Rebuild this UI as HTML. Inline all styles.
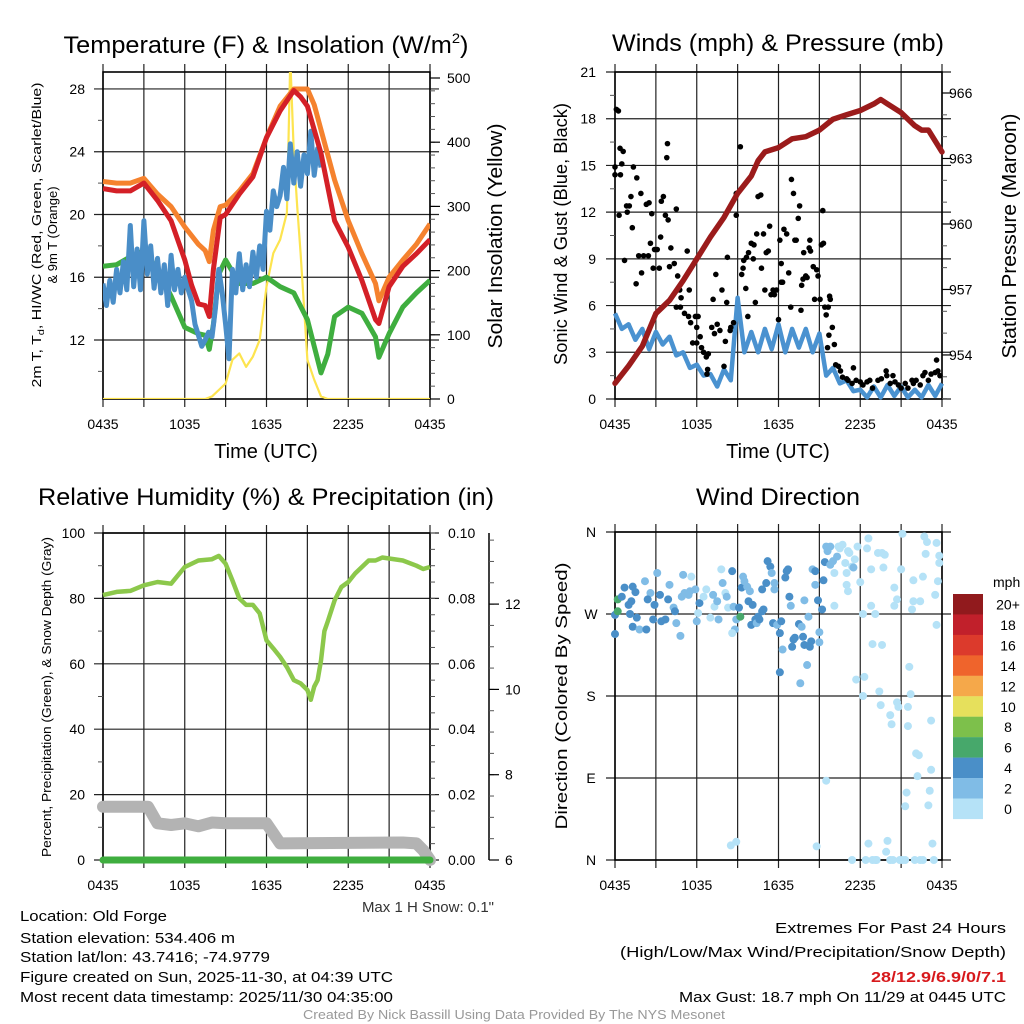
<!DOCTYPE html>
<html><head><meta charset="utf-8"><title>Mesonet Meteogram</title>
<style>
html,body{margin:0;padding:0;background:#fff;}
svg{display:block;font-family:"Liberation Sans",sans-serif;}
</style></head>
<body>
<svg id="chart" xmlns="http://www.w3.org/2000/svg" width="1024" height="1024" viewBox="0 0 1024 1024">
<rect x="0" y="0" width="1024" height="1024" fill="#fff"/>
<!-- titles -->
<text x="266" y="53" font-size="24" text-anchor="middle" textLength="405" lengthAdjust="spacingAndGlyphs">Temperature (F) &amp; Insolation (W/m<tspan font-size="14" dy="-10">2</tspan><tspan dy="10">)</tspan></text>
<text x="778" y="51" font-size="24" text-anchor="middle" textLength="332" lengthAdjust="spacingAndGlyphs">Winds (mph) &amp; Pressure (mb)</text>
<text x="266" y="505" font-size="24" text-anchor="middle" textLength="456" lengthAdjust="spacingAndGlyphs">Relative Humidity (%) &amp; Precipitation (in)</text>
<text x="778" y="505" font-size="24" text-anchor="middle" textLength="164" lengthAdjust="spacingAndGlyphs">Wind Direction</text>
<!-- axis titles -->
<text transform="translate(41,235) rotate(-90)" font-size="13" text-anchor="middle" textLength="305" lengthAdjust="spacingAndGlyphs">2m T, T<tspan font-size="9" dy="3">d</tspan><tspan dy="-3">, HI/WC (Red, Green, Scarlet/Blue)</tspan></text>
<text transform="translate(57,235) rotate(-90)" font-size="13" text-anchor="middle">&amp; 9m T (Orange)</text>
<text transform="translate(502,236) rotate(-90)" font-size="20" text-anchor="middle" textLength="225" lengthAdjust="spacingAndGlyphs">Solar Insolation (Yellow)</text>
<text transform="translate(567,234) rotate(-90)" font-size="18" text-anchor="middle" textLength="262" lengthAdjust="spacingAndGlyphs">Sonic Wind &amp; Gust (Blue, Black)</text>
<text transform="translate(1016,236) rotate(-90)" font-size="20" text-anchor="middle" textLength="245" lengthAdjust="spacingAndGlyphs">Station Pressure (Maroon)</text>
<text transform="translate(51,697) rotate(-90)" font-size="13" text-anchor="middle" textLength="320" lengthAdjust="spacingAndGlyphs">Percent, Precipitation (Green), &amp; Snow Depth (Gray)</text>
<text transform="translate(567,696) rotate(-90)" font-size="17" text-anchor="middle" textLength="267" lengthAdjust="spacingAndGlyphs">Direction (Colored By Speed)</text>
<text x="266" y="458" font-size="20" text-anchor="middle">Time (UTC)</text>
<text x="778" y="458" font-size="20" text-anchor="middle">Time (UTC)</text>
<!-- footer -->
<text x="494" y="912" font-size="15" text-anchor="end" fill="#333">Max 1 H Snow: 0.1"</text>
<g font-size="15">
<text x="20" y="921" textLength="147" lengthAdjust="spacingAndGlyphs">Location: Old Forge</text>
<text x="20" y="943" textLength="215" lengthAdjust="spacingAndGlyphs">Station elevation: 534.406 m</text>
<text x="20" y="962" textLength="250" lengthAdjust="spacingAndGlyphs">Station lat/lon: 43.7416; -74.9779</text>
<text x="20" y="982" textLength="373" lengthAdjust="spacingAndGlyphs">Figure created on Sun, 2025-11-30, at 04:39 UTC</text>
<text x="20" y="1002" textLength="373" lengthAdjust="spacingAndGlyphs">Most recent data timestamp: 2025/11/30 04:35:00</text>
</g>
<g font-size="15" text-anchor="end">
<text x="1006" y="933" textLength="231" lengthAdjust="spacingAndGlyphs">Extremes For Past 24 Hours</text>
<text x="1006" y="957" textLength="386" lengthAdjust="spacingAndGlyphs">(High/Low/Max Wind/Precipitation/Snow Depth)</text>
<text x="1006" y="982" font-weight="bold" fill="#d7191c" textLength="135" lengthAdjust="spacingAndGlyphs">28/12.9/6.9/0/7.1</text>
<text x="1006" y="1002" textLength="327" lengthAdjust="spacingAndGlyphs">Max Gust: 18.7 mph On 11/29 at 0445 UTC</text>
</g>
<text x="514" y="1019" font-size="13" fill="#999" text-anchor="middle" textLength="422" lengthAdjust="spacingAndGlyphs">Created By Nick Bassill Using Data Provided By The NYS Mesonet</text>
</svg>
<script>
// ---------- data ----------
const xTickLabels = ["0435","1035","1635","2235","0435"];
// Temperature panel
const redT = [0,1,2,3,4,5,6,6.5,7,7.5,7.8,8.1,8.6,9,10,11,12,13,14,14.5,15,16,17,18,19,20,20.25,21,22,23,24];
const redV = [21.65,21.5,21.5,22.0,20.9,19.6,17.1,15.5,14.3,14.2,13.5,16.5,19.8,20.0,21.3,22.4,24.9,26.6,27.9,27.5,26.9,23.9,19.6,17.9,15.8,13.3,13.05,15.4,16.7,17.5,18.4];
const orangeT = [0,1,2,3,4,5,6,7,7.5,7.8,8.1,8.6,9,10,11,12,13,14,15,15.5,16,17,18,19,20,20.25,21,22,23,24];
const orangeV = [22.1,22.0,22.0,22.3,21.3,20.5,19.2,18.1,17.7,17.0,19.0,20.5,20.6,21.5,22.6,24.9,26.9,28.0,28.0,27.0,25.4,22.2,19.6,17.5,15.6,14.5,16.0,17.1,18.1,19.4];
const greenT = [0,1,2,3,4,5,6,7,7.5,7.8,8.1,8.5,9,10,11,12,13,14,15,15.5,16,16.5,17,18,19,20,20.25,21,22,23,24];
const greenV = [16.7,16.8,17.3,17.7,16.5,14.8,12.8,12.4,12.3,11.4,13.0,16.2,17.1,15.6,15.6,16.0,15.4,15.0,13.3,11.6,9.9,11.1,13.5,14.1,13.7,12.2,10.9,12.4,14.1,15.0,15.8];
const blueV = [15.6,14.2,15.8,14.4,16.5,15.0,17.0,15.2,19.3,15.4,17.8,15.2,19.6,16.2,18.0,15.3,17.2,15.0,16.8,14.2,17.4,15.2,16.5,15.0,16.0,15.2,14.5,13.0,12.3,11.6,12.0,12.5,12.2,14.0,16.5,15.0,13.0,10.8,16.5,15.0,17.5,15.2,16.8,15.4,17.6,16.0,18.0,16.5,20.2,19.0,21.5,20.5,21.2,23.0,21.0,24.5,22.0,24.0,21.8,23.8,22.6,25.3,22.5,24.2,23.0];
const blueStep = 0.25;
const solarT = [0,7.5,8,8.5,9,9.5,10,10.5,11,11.5,12,12.5,13,13.5,13.75,14,14.25,14.5,15,15.5,16,16.5,24];
const solarV = [0,0,4,14,24,61,71,50,66,92,175,227,248,290,530,383,300,227,61,30,4,0,0];
const tempTicks = [12,16,20,24,28];
const solarTicks = [0,100,200,300,400,500];
// Wind panel
const windV = [5.5,4.5,4.8,3.8,4.5,3.2,4.3,3.5,4.0,2.8,3.0,2.0,2.2,1.5,1.6,0.8,1.9,1.2,6.5,3.0,4.3,3.0,4.5,3.2,4.8,3.0,4.5,3.3,4.5,3.0,4.2,1.5,2.0,1.0,1.2,0.5,0.6,0.1,0.8,0.1,0.9,0.2,0.8,0.1,0.6,0.1,0.9,0.2,1.0];
const windStep = 0.5;
const gustT = [0,0.1,0.25,0,0.37,0.6,0.5,0.4,0.3,0.7,0.85,1.05,0.9,1.17,1.27,1.35,1.6,1.55,1.74,1.9,2.1,1.95,2.3,2.5,2.7,2.45,2.6,2.8,2.9,3.1,3.25,3.4,3.55,3.7,3.9,3.8,3.85,3.35,4.1,4.0,4.35,4.5,4.6,4.75,4.85,4.5,5.3,5.45,4.8,5.1,5.4,5.55,5.9,6.1,6.0,5.7,6.0,6.25,6.35,6.5,6.7,6.8,6.75,6.85,7.2,7.4,7.1,7.3,7.5,7.7,7.85,8.0,8.1,8.2,8.25,8.45,8.7,8.5,8.9,8.9,9.2,9.3,9.4,9.45,9.6,9.65,9.8,10.0,10.15,10.2,10.4,10.5,10.7,9.75,10.3,10.75,10.9,11.0,11.1,11.25,11.35,11.45,11.6,11.7,11.85,12.0,12.1,12.2,12.3,12.2,12.4,12.6,12.75,12.9,12.95,13.1,13.2,13.3,13.45,13.55,13.7,13.8,13.65,13.85,14.0,14.1,14.3,14.25,14.35,14.55,14.65,14.8,14.9,15.05,15.25,15.15,15.3,15.4,15.5,15.65,15.75,15.8,15.95,15.7,16.1,15.6,16.2,16.4,16.55,16.7,17.0,17.1,17.4,17.5,17.7,18.0,18.2,18.5,18.7,18.9,19.3,19.55,19.9,19.95,20.2,20.4,20.55,20.8,21.0,21.3,21.5,21.8,21.9,22.1,22.4,22.6,22.75,23.0,23.2,23.5,23.6,23.7,23.85];
const gustV = [14.4,18.6,18.5,14.9,16.1,15.9,15.1,14.4,11.8,8.9,12.4,12.4,12.0,13.0,11.0,14.9,14.2,7.4,9.2,13.2,9.2,8.1,12.5,12.6,11.9,9.2,10.0,8.4,9.6,9.6,8.4,12.7,13.0,11.8,11.5,15.5,16.4,10.4,9.7,8.5,8.7,12.2,7.9,7.0,6.5,5.9,9.5,7.0,5.9,5.5,5.3,4.9,5.3,5.3,4.6,3.6,3.6,4.0,3.3,3.0,2.7,1.9,1.6,2.9,6.4,8.0,4.6,4.2,4.8,4.4,7.0,2.1,3.7,6.2,9.1,4.4,4.9,4.6,13.2,11.8,16.2,8.0,8.4,8.9,7.1,9.1,9.4,10.0,9.0,9.9,10.6,13.0,13.1,5.3,6.2,8.4,10.6,7.0,9.4,9.5,11.1,6.7,7.0,6.7,7.0,5.1,10.2,7.5,7.5,8.7,10.9,10.6,8.1,5.9,14.1,13.2,10.2,10.2,11.6,12.4,7.3,7.7,5.7,9.4,7.9,7.8,10.2,9.7,9.5,8.5,6.4,8.3,7.9,6.4,12.1,9.9,10.0,5.9,5.4,5.9,6.6,6.4,4.6,4.1,3.5,3.3,2.2,2.1,1.8,1.4,1.3,1.2,1.0,2.0,1.2,1.1,0.9,1.1,1.2,0.7,1.2,1.3,1.8,1.5,1.0,1.5,1.1,0.9,0.7,1.0,0.7,1.2,1.0,1.2,0.9,1.5,1.7,1.2,1.6,1.7,2.5,1.8,1.5];
const presT = [0,1,2,3,4,5,6,7,8,9,10,10.5,11,12,13,14,15,16,17,18,19,19.5,20,21,22,22.5,23,24];
const presV = [952.7,953.5,954.4,955.9,956.5,957.4,958.4,959.4,960.3,961.4,962.2,962.9,963.3,963.5,963.9,964.0,964.3,964.8,965.0,965.2,965.5,965.7,965.5,965.1,964.5,964.3,964.3,963.3];
const windTicks = [0,3,6,9,12,15,18,21];
const presTicks = [954,957,960,963,966];
// Humidity panel
const rhT = [0,1,2,3,4,5,6,7,8,8.5,9,9.5,10,10.5,11,11.5,12,12.5,13,13.5,14,14.5,15,15.25,15.5,15.75,16,16.25,16.5,17,17.5,18,18.5,19,19.5,20,20.5,21,22,23,23.5,24];
const rhV = [81,82,82.3,84,85,84.5,89.6,91.6,92,93,90.6,85.5,80,78,78,75.4,67.2,64.7,62.1,59,55,54,52,49,53,55,61,70,73,79.4,83.5,85,87.6,89.6,91.6,91.6,92.5,92.2,91.6,90,89,89.6];
const snowT = [0,3.3,4,5,6,7,8,9,12,13,22,23,23.5,24];
const snowV = [7.25,7.25,6.86,6.82,6.86,6.79,6.88,6.86,6.86,6.39,6.41,6.39,6.23,6.0];
const precipT = [0,24];
const precipV = [0,0];
const rhTicks = [0,20,40,60,80,100];
const precipTicks = ["0.00","0.02","0.04","0.06","0.08","0.10"];
const snowTicks = [6,8,10,12];
// Direction panel
const dirT = [0,0,0.2,0.2,0.7,0.5,1.0,1.3,1.5,1.2,1.1,1.3,1.6,1.8,2.3,2.2,2.6,2.4,2.8,3.1,2.9,3.3,3.4,3.7,3.9,4.0,4.3,4.4,4.5,4.8,4.9,5.0,5.1,5.4,5.5,5.6,5.9,6.0,6.1,6.2,6.5,6.7,7.0,7.2,7.3,7.5,7.6,7.8,7.9,8.1,8.2,8.3,8.6,8.7,8.8,8.6,8.9,9.1,9.2,9.3,9.4,9.5,9.7,9.8,9.9,10.0,10.1,10.3,10.4,10.5,10.6,10.8,10.8,10.9,11.1,11.2,11.4,11.5,11.6,11.7,11.7,11.9,12.1,12.1,12.2,12.3,12.5,12.6,12.7,12.8,12.9,13.0,13.1,13.2,13.5,13.7,13.8,13.6,13.9,13.9,14.1,14.2,14.3,14.4,14.5,14.7,14.7,14.9,15.0,15.0,15.2,15.3,15.4,15.5,15.6,15.8,15.8,16.0,16.1,16.3,16.4,16.5,16.7,16.9,17.0,17.1,17.2,17.4,17.5,17.6,17.0,17.1,16.1,18.0,17.8,18.5,18.6,18.8,18.8,19.1,19.3,19.6,19.7,19.8,20.5,20.7,20.5,21.0,21.1,21.9,21.9,21.8,22.4,22.6,22.7,22.9,22.8,23.6,23.8,23.8,23.7,23.5,23.6,18.9,19.6,18.2,17.7,18.3,18.2,19.4,19.5,20.2,20.3,20.7,20.8,21.5,21.5,21.7,21.6,23.2,22.1,22.3,22.2,23.2,21.4,21.3,23.1,23.0,15.5,8.5,8.9,14.8,18.6,20.0,19.9,23.3,17.4,18.4,18.9,19.1,19.2,20.2,20.4,20.9,21.1,21.3,22.0,22.4,22.6,23.4];
const dirV = [269,248,286,273,299,289,280,300,294,284,270,256,266,253,253,306,293,286,264,315,280,291,262,264,286,302,277,273,260,246,289,313,293,291,295,311,297,262,271,282,289,297,266,291,278,284,264,319,304,293,289,277,317,278,253,249,264,277,267,299,311,306,300,284,295,258,280,264,260,267,264,297,273,275,304,328,322,315,260,297,304,258,249,206,262,231,310,317,319,289,279,234,242,244,259,256,245,194,285,236,214,267,234,240,319,317,302,285,250,239,275,307,327,344,339,344,324,328,315,333,344,342,346,326,315,339,337,322,321,330,302,295,279,305,344,342,353,319,279,270,337,337,321,335,299,286,279,319,358,307,284,275,284,311,355,349,336,348,334,326,306,291,258,237,236,270,198,201,180,185,170,159,149,173,168,168,147,182,212,153,117,115,92,99,74,59,76,60,87,16,20,15,18,21,9,18,0,0,0,0,0,0,0,0,0,0,0,0,0,0];
const dirSpd = [5,5,7,7,5,5,5,5,5,5,5,5,5,3,5,3,3,5,5,3,5,5,5,5,5,3,3,5,3,3,3,3,3,3,3,1,3,3,1,5,1,1,1,3,1,3,3,1,3,1,3,1,5,3,3,1,3,5,7,5,3,3,3,5,3,5,5,5,3,5,5,5,5,5,5,5,5,3,5,3,3,3,5,5,5,3,5,5,5,5,3,5,5,5,5,3,5,3,3,5,3,3,5,5,3,5,3,5,3,3,5,5,5,3,3,3,3,3,1,3,1,1,1,1,1,1,1,1,3,1,1,1,1,1,1,1,1,1,1,1,1,1,1,1,1,1,1,1,1,1,1,1,1,1,1,1,1,1,1,1,1,1,1,1,1,1,1,1,1,1,1,1,1,1,1,1,1,1,1,1,1,1,1,1,1,1,1,1,1,1,1,1,1,1,1,1,1,1,1,1,1,1,1,1,1,1,1,1,1,1,1,1,1,1,1];
const dirTickLabels = ["N","E","S","W","N"];
const legendLabels = ["20+","18","16","14","12","10","8","6","4","2","0"];
const legendColors = ["#911a1d","#c1202b","#dc3a2c","#ef642c","#f5a84a","#e6e05c","#7dc04b","#47a86b","#4a8fc8","#80bce6","#b5e2f7"];

// ---------- helpers ----------
const NS = "http://www.w3.org/2000/svg";
const svg = document.getElementById("chart");
function el(tag, attrs, parent){
  const e = document.createElementNS(NS, tag);
  for (const k in attrs) e.setAttribute(k, attrs[k]);
  (parent || svg).appendChild(e);
  return e;
}
function group(name){
  const g = el("g", {});
  
  
  return g;
}
function linePath(ts, vs, sx, sy){
  let d = "";
  for (let i = 0; i < ts.length; i++) d += (i ? "L" : "M") + sx(ts[i]).toFixed(1) + "," + sy(vs[i]).toFixed(1);
  return d;
}
function stepPath(vs, step, sx, sy){
  let d = "";
  for (let i = 0; i < vs.length; i++) d += (i ? "L" : "M") + sx(i*step).toFixed(1) + "," + sy(vs[i]).toFixed(1);
  return d;
}
function frameGrid(x0, y0, x1, y1, name, hGrid, minorEvery){
  const g = group(name + "-grid");
  for (let i = 0; i <= 8; i++) {
    const x = x0 + i*(x1-x0)/8;
    const l = el("line", {x1:x, x2:x, y1:y0-8, y2:y1+8, stroke:"#222", "stroke-width":1.2}, g);
    
    
  }
  hGrid.forEach(y => {
    const l = el("line", {x1:x0-9, x2:x1+9, y1:y, y2:y, stroke:"#222", "stroke-width":1.2}, g);
    
    
  });
  const r = el("rect", {x:x0, y:y0, width:x1-x0, height:y1-y0, fill:"none", stroke:"#000", "stroke-width":1.6}, g);
  
  
  xTickLabels.forEach((t, i) => {
    const tx = el("text", {x:x0 + i*(x1-x0)/4, y:y1+30, "font-size":14, "text-anchor":"middle"}, g);
    tx.textContent = t;
    
    
  });
  return g;
}
function minorTicks(g, x, ys, len){
  ys.forEach(y => {
    const l = el("line", {x1:x, x2:x+len, y1:y, y2:y, stroke:"#555", "stroke-width":1}, g);
    
    
  });
}
function label(g, x, y, txt, anchor, size, name){
  const t = el("text", {x:x, y:y, "font-size":size||14, "text-anchor":anchor}, g);
  t.textContent = txt;
  
  
  return t;
}
function range(a, b, s){ const r=[]; for (let v=a; v<=b+1e-9; v+=s) r.push(v); return r; }

// ---------- Panel 1: temperature ----------
const P1 = {x0:103, x1:430, y0:72, y1:399};
const x1s = h => P1.x0 + h*(P1.x1-P1.x0)/24;
const tY = v => 340 - (v-12)*15.69;
const sY = v => 399 - v*0.642;
{
  const g = frameGrid(P1.x0, P1.y0, P1.x1, P1.y1, "temperature-panel", tempTicks.map(tY));
  minorTicks(g, P1.x0-5, [10,14,18,22,26].map(tY), 5);
  minorTicks(g, P1.x1, range(0,500,20).map(sY), 5);
  solarTicks.forEach(v => {
    const l = el("line", {x1:P1.x1, x2:P1.x1+10, y1:sY(v), y2:sY(v), stroke:"#000", "stroke-width":1.2}, g);
    
    
    label(g, P1.x1+17, sY(v)+5, String(v), "start", 14, "solar-tick-label");
  });
  tempTicks.forEach(v => label(g, 85, tY(v)+5, String(v), "end", 14, "temperature-tick-label"));
  const cp = el("clipPath", {id:"clip1"}, svg);
  el("rect", {x:P1.x0, y:P1.y0, width:P1.x1-P1.x0, height:P1.y1-P1.y0}, cp);
  const s = group("temperature-series");
  s.setAttribute("clip-path", "url(#clip1)");
  const sol = el("path", {d:linePath(solarT, solarV, x1s, sY), fill:"none", stroke:"#fde44f", "stroke-width":2.2, "stroke-linejoin":"round"}, s);
  
  
  const gr = el("path", {d:linePath(greenT, greenV, x1s, tY), fill:"none", stroke:"#3fae3f", "stroke-width":5, "stroke-linejoin":"round"}, s);
  
  
  const bl = el("path", {d:stepPath(blueV, blueStep, x1s, tY), fill:"none", stroke:"#4a8ec8", "stroke-width":5, "stroke-linejoin":"round"}, s);
  
  
  const or = el("path", {d:linePath(orangeT, orangeV, x1s, tY), fill:"none", stroke:"#f5822e", "stroke-width":5, "stroke-linejoin":"round"}, s);
  
  
  const rd = el("path", {d:linePath(redT, redV, x1s, tY), fill:"none", stroke:"#d42027", "stroke-width":5, "stroke-linejoin":"round"}, s);
  
  
}

// ---------- Panel 2: wind ----------
const P2 = {x0:615, x1:942, y0:72, y1:399};
const x2s = h => P2.x0 + h*(P2.x1-P2.x0)/24;
const wY = v => 399 - v*327/21;
const pY = p => 93 + (966-p)*21.83;
{
  const g = frameGrid(P2.x0, P2.y0, P2.x1, P2.y1, "wind-panel", windTicks.map(wY));
  minorTicks(g, P2.x0-5, range(1.5,19.5,3).map(wY), 5);
  minorTicks(g, P2.x1, range(952,966,1).map(pY), 5);
  presTicks.forEach(v => {
    const l = el("line", {x1:P2.x1, x2:P2.x1+10, y1:pY(v), y2:pY(v), stroke:"#000", "stroke-width":1.2}, g);
    
    
    label(g, P2.x1+7, pY(v)+5, String(v), "start", 14, "pressure-tick-label");
  });
  windTicks.forEach(v => label(g, 596, wY(v)+5, String(v), "end", 14, "wind-tick-label"));
  const cp = el("clipPath", {id:"clip2"}, svg);
  el("rect", {x:P2.x0-6, y:P2.y0, width:P2.x1-P2.x0+12, height:P2.y1-P2.y0+3}, cp);
  const s = group("wind-series");
  s.setAttribute("clip-path", "url(#clip2)");
  const bl = el("path", {d:stepPath(windV, windStep, x2s, wY), fill:"none", stroke:"#4a92d0", "stroke-width":4.5, "stroke-linejoin":"round"}, s);
  
  
  gustT.forEach((t, i) => {
    const c = el("circle", {cx:x2s(t), cy:wY(gustV[i]), r:2.8, fill:"#000"}, s);
    
    
  });
  const pr = el("path", {d:linePath(presT, presV, x2s, pY), fill:"none", stroke:"#9b1b1b", "stroke-width":5.5, "stroke-linejoin":"round", "stroke-linecap":"round"}, s);
  
  
}

// ---------- Panel 3: humidity ----------
const P3 = {x0:103, x1:430, y0:533, y1:860};
const x3s = h => P3.x0 + h*(P3.x1-P3.x0)/24;
const rY = v => 860 - v*3.27;
const pcY = v => 860 - v*3270;
const snY = v => 860 - (v-6)*42.65;
{
  const g = frameGrid(P3.x0, P3.y0, P3.x1, P3.y1, "humidity-panel", rhTicks.map(rY));
  minorTicks(g, P3.x0-5, range(10,90,20).map(rY), 5);
  minorTicks(g, P3.x1, range(0,100,5).map(rY), 5);
  rhTicks.forEach(v => label(g, 85, rY(v)+5, String(v), "end", 14, "humidity-tick-label"));
  precipTicks.forEach(v => label(g, 448, pcY(parseFloat(v))+5, v, "start", 14, "precip-tick-label"));
  const ax = el("line", {x1:489, x2:489, y1:533, y2:860, stroke:"#000", "stroke-width":1.5}, g);
  
  
  minorTicks(g, 489, range(6,13.5,0.5).map(snY), 5);
  snowTicks.forEach(v => {
    const l = el("line", {x1:489, x2:499, y1:snY(v), y2:snY(v), stroke:"#000", "stroke-width":1.2}, g);
    
    
    label(g, 505, snY(v)+5, String(v), "start", 14, "snow-tick-label");
  });
  const s = group("humidity-series");
  const sn = el("path", {d:linePath(snowT, snowV, x3s, snY), fill:"none", stroke:"#b3b3b3", "stroke-width":12, "stroke-linejoin":"round", "stroke-linecap":"round"}, s);
  
  
  const pc = el("path", {d:linePath(precipT, precipV, x3s, pcY), fill:"none", stroke:"#3fae3f", "stroke-width":7, "stroke-linecap":"round"}, s);
  
  
  const rh = el("path", {d:linePath(rhT, rhV, x3s, rY), fill:"none", stroke:"#8cc84b", "stroke-width":4.5, "stroke-linejoin":"round"}, s);
  
  
}

// ---------- Panel 4: direction ----------
const P4 = {x0:615, x1:942, y0:532, y1:860};
const x4s = h => P4.x0 + h*(P4.x1-P4.x0)/24;
const dY = d => 860 - d*328/360;
function spdColor(v){ const i = Math.min(10, Math.floor(v/2)); return legendColors[10-i]; }
{
  const g = frameGrid(P4.x0, P4.y0, P4.x1, P4.y1, "direction-panel", [0,90,180,270,360].map(dY));
  dirTickLabels.forEach((t, i) => label(g, 591, dY(i*90)+5, t, "middle", 14, "direction-tick-label"));
  const s = group("direction-series");
  dirT.forEach((t, i) => {
    const c = el("circle", {cx:x4s(t), cy:dY(dirV[i]), r:4, fill:spdColor(dirSpd[i])}, s);
    
    
  });
  const lg = group("speed-legend");
  label(lg, 993, 587, "mph", "start", 14, "legend-title");
  legendColors.forEach((col, i) => {
    const r = el("rect", {x:953, y:594 + i*20.45, width:30, height:20.6, fill:col}, lg);
    
    
    label(lg, 1008, 594 + i*20.45 + 15.5, legendLabels[i], "middle", 14, "legend-label");
  });
}
</script>
</body></html>
